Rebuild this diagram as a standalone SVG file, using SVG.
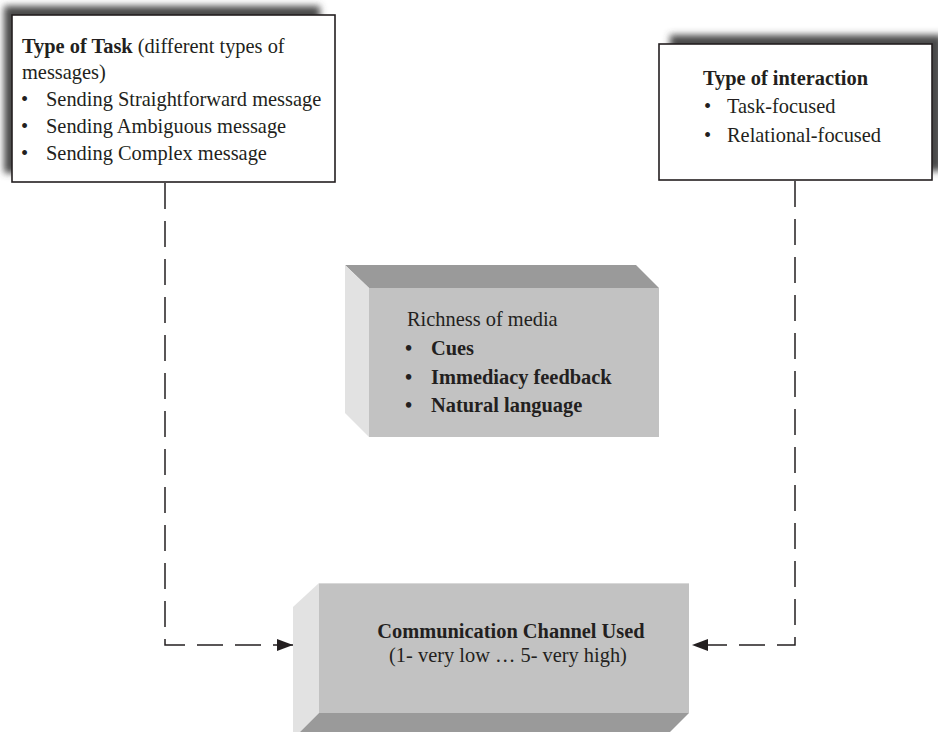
<svg xmlns="http://www.w3.org/2000/svg" width="938" height="732" viewBox="0 0 938 732">
<style>
  text { font-family: "Liberation Serif", "Times New Roman", serif; font-size: 20.4px; fill: #231f20; }
  .b { font-weight: bold; }
  .box { fill: #ffffff; stroke: #231f20; stroke-width: 1.6; }
  .shadow { fill: #4a4a4a; filter: url(#blur); }
  .front { fill: #c2c2c2; }
  .side { fill: #e2e2e2; }
  .dark { fill: #9a9a9a; }
  .conn { fill: none; stroke: #231f20; stroke-width: 1.5; stroke-dasharray: 26 12; }
</style>
<defs>
  <filter id="blur" x="-10%" y="-20%" width="120%" height="140%">
    <feGaussianBlur stdDeviation="3.5"/>
  </filter>
  <marker id="arrow" markerUnits="userSpaceOnUse" markerWidth="17" markerHeight="13" refX="16" refY="6" orient="auto">
    <path d="M0,0 L16,6 L0,12 Z" fill="#231f20"/>
  </marker>
</defs>
<rect width="938" height="732" fill="#ffffff"/>

<g id="connectors">
  <path class="conn" d="M165,183 V645 H293" marker-end="url(#arrow)"/>
  <path class="conn" d="M795,181 V645 H692" marker-end="url(#arrow)"/>
</g>

<g id="type-of-task">
  <rect class="shadow" x="4" y="6" width="316" height="167"/>
  <rect class="box" x="12" y="15" width="323" height="167"/>
  <text x="22" y="53"><tspan class="b">Type of Task</tspan> (different types of</text>
  <text x="22" y="79">messages)</text>
  <text x="21" y="106">•</text><text x="46" y="106">Sending Straightforward message</text>
  <text x="21" y="133">•</text><text x="46" y="133">Sending Ambiguous message</text>
  <text x="21" y="160">•</text><text x="46" y="160">Sending Complex message</text>
</g>

<g id="type-of-interaction">
  <rect class="shadow" x="670" y="35" width="273" height="136"/>
  <rect class="box" x="659" y="44" width="273" height="136"/>
  <text class="b" x="703" y="85">Type of interaction</text>
  <text x="704" y="113">•</text><text x="727" y="113">Task-focused</text>
  <text x="704" y="142">•</text><text x="727" y="142">Relational-focused</text>
</g>

<g id="richness-of-media">
  <polygon class="dark" points="345,265 636,265 659,288 369,288"/>
  <polygon class="side" points="345,265 369,288 369,437 345,413"/>
  <rect class="front" x="369" y="288" width="290" height="149"/>
  <text x="407" y="326">Richness of media</text>
  <text class="b" x="405" y="355">•</text><text class="b" x="431" y="355">Cues</text>
  <text class="b" x="405" y="384">•</text><text class="b" x="431" y="384">Immediacy feedback</text>
  <text class="b" x="405" y="412">•</text><text class="b" x="431" y="412">Natural language</text>
</g>

<g id="communication-channel">
  <polygon class="side" points="293,607 319,583 319,713 293,739"/>
  <polygon class="dark" points="319,713 689,713 665,737 295,737"/>
  <rect class="front" x="319" y="583" width="370" height="130"/>
  <line x1="319" y1="583.5" x2="689" y2="583.5" stroke="#d8d8d8" stroke-width="1"/>
  <text class="b" x="511" y="638" text-anchor="middle">Communication Channel Used</text>
  <text x="508" y="662" text-anchor="middle">(1- very low … 5- very high)</text>
</g>
</svg>
